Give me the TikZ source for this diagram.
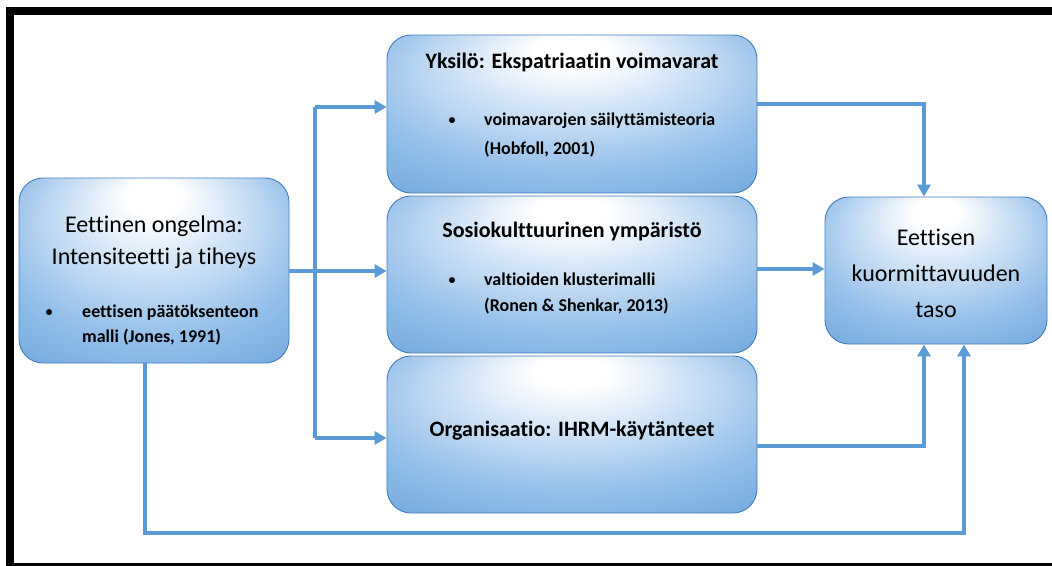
\documentclass[tikz,border=0pt]{standalone}
\usepackage{fontspec}
\setmainfont{Carlito}[Ligatures=NoCommon]
\usetikzlibrary{arrows.meta}

\definecolor{boxblue}{RGB}{80,144,207}
\definecolor{boxmid}{RGB}{146,190,233}
\definecolor{boxline}{RGB}{68,128,190}
\definecolor{flow}{RGB}{91,155,213}

% soft glow, brightest a little above the middle of each panel
\pgfdeclareradialshading{boxglow}{\pgfpoint{0bp}{22bp}}{%
  color(0bp)=(white); color(5bp)=(white); color(29bp)=(boxmid); color(54bp)=(boxblue)}

\tikzset{
  panel/.style={draw=boxline, line width=0.9pt, rounded corners=24pt,
                shading=boxglow, inner sep=0pt},
  bigtext/.style={font=\fontsize{24}{30}\selectfont, inner sep=0pt},
  headtext/.style={font=\bfseries\fontsize{22}{26}\selectfont, inner sep=0pt},
  bullettext/.style={font=\bfseries\fontsize{18}{22}\selectfont, inner sep=0pt},
  bulletdot/.style={font=\bfseries\fontsize{14}{18}\selectfont, inner sep=0pt, anchor=base},
  flowline/.style={draw=flow, line width=3.5pt},
  arr/.style={-{Triangle[length=12pt,width=13pt]}},
}

\begin{document}
\begin{tikzpicture}[x=1pt,y=-1pt]
\useasboundingbox (0,0) rectangle (1052,565);
\fill[white] (0,0) rectangle (1052,565);

% panels
\node[panel, minimum width=270pt, minimum height=185pt] (prob) at (154,270.5) {};
\node[panel, minimum width=370pt, minimum height=158pt] (ind)  at (572,114) {};
\node[panel, minimum width=370pt, minimum height=157pt] (soc)  at (572,274.5) {};
\node[panel, minimum width=370pt, minimum height=157pt] (org)  at (572,434.5) {};
\node[panel, minimum width=222pt, minimum height=147pt] (out)  at (936,270.5) {};

% texts of the left panel
\node[bigtext, anchor=base] (probA) at (154,232) {Eettinen ongelma:};
\node[bigtext, anchor=base] (probB) at (154,264) {Intensiteetti ja tiheys};
\node[bulletdot] (probDot) at (49,316) {•};
\node[bullettext, anchor=base west] (probC) at (82,317) {eettisen päätöksenteon};
\node[bullettext, anchor=base west] (probD) at (82,342) {malli (Jones, 1991)};

% texts of the middle panels
\node[headtext, anchor=base] (indT) at (572,68) {Yksilö: Ekspatriaatin voimavarat};
\node[bulletdot] (indDot) at (452,124) {•};
\node[bullettext, anchor=base west] (indA) at (484,125) {voimavarojen säilyttämisteoria};
\node[bullettext, anchor=base west] (indB) at (484,154) {(Hobfoll, 2001)};

\node[headtext, anchor=base] (socT) at (572,237) {Sosiokulttuurinen ympäristö};
\node[bulletdot] (socDot) at (452,284) {•};
\node[bullettext, anchor=base west] (socA) at (484,285) {valtioiden klusterimalli};
\node[bullettext, anchor=base west] (socB) at (484,311) {(Ronen \& Shenkar, 2013)};

\node[headtext, anchor=base] (orgT) at (572,436) {Organisaatio: IHRM-käytänteet};

% texts of the right panel
\node[bigtext, anchor=base] (outA) at (936,245) {Eettisen};
\node[bigtext, anchor=base] (outB) at (936,281) {kuormittavuuden};
\node[bigtext, anchor=base] (outC) at (936,317) {taso};

% routing points
\coordinate (trunkTop) at (315,107);
\coordinate (trunkBot) at (315,438);
\coordinate (midRow)   at (315,271);
\coordinate (indRow)   at (924,104);
\coordinate (socRow)   at (790,269);
\coordinate (orgRow)   at (924,446);
\coordinate (loopL)    at (145,533);
\coordinate (loopR)    at (964,533);

% connectors
\draw[flowline] (trunkTop) -- (trunkBot);
\draw[flowline, arr] (prob.east |- midRow) -- (midRow -| soc.west);
\draw[flowline, arr] (trunkTop) -- (trunkTop -| ind.west);
\draw[flowline, arr] (trunkBot) -- (trunkBot -| org.west);

\draw[flowline, arr] (indRow -| ind.east) -- (indRow) -- (indRow |- out.north);
\draw[flowline, arr] (socRow -| soc.east) -- (socRow -| out.west);
\draw[flowline, arr] (orgRow -| org.east) -- (orgRow) -- (orgRow |- out.south);
\draw[flowline, arr] (loopL |- prob.south) -- (loopL) -- (loopR) -- (loopR |- out.south);

% frame
\draw[line width=8pt] (10,11) rectangle (1058,567);
\end{tikzpicture}
\end{document}
